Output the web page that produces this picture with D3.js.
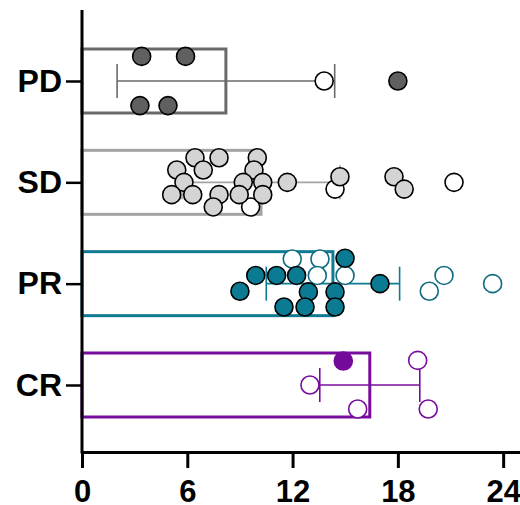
<!DOCTYPE html>
<meta charset="utf-8">
<script src="https://d3js.org/d3.v7.min.js"></script>
<style>
  body { margin: 0; background: #fff; }
  text { font-family: "Liberation Sans", Arial, sans-serif; font-weight: bold; }
</style>
<div id="my_dataviz"></div>
<script>

// categories, top to bottom
const groups = ["PD", "SD", "PR", "CR"];

// bar = mean, err = SD (whisker)
const means = [8.2, 10.2, 14.3, 16.4];
const errs  = [6.2, 4.5, 3.8, 2.85];

// filled points: value and vertical jitter (lane units, -2..2)
const filledVals = {
  PD: [3.4, 5.9, 3.3, 4.9, 18.0],
  SD: [6.44, 7.81, 9.99, 5.40, 6.91, 9.80, 5.81, 9.19, 10.30, 11.70, 14.70, 17.78, 5.11, 6.31, 7.81, 8.96, 10.30, 7.48, 18.36],
  PR: [14.99, 9.90, 11.09, 12.23, 9.00, 12.90, 14.42, 16.98, 11.51, 12.71, 14.42],
  CR: [14.89]
};
const filledJit = {
  PD: [-2, -2, 2, 2, 0],
  SD: [-2, -2, -2, -1, -1, -1, 0, 0, 0, 0, -0.45, -0.45, 1, 1, 1, 1, 1, 2, 0.55],
  PR: [-2.07, -0.67, -0.67, -0.67, 0.62, 0.67, 0.67, 0, 1.9, 1.9, 1.9],
  CR: [-1.95]
};

// open points
const openVals = {
  PD: [13.8],
  SD: [14.42, 9.61, 21.2],
  PR: [11.98, 13.56, 13.41, 14.99, 20.63, 19.79, 23.4],
  CR: [12.99, 15.71, 19.13, 19.73]
};
const openJit = {
  PD: [0],
  SD: [0.55, 2, 0],
  PR: [-2, -2, -0.67, -0.67, -0.67, 0.62, 0],
  CR: [0, 1.95, -2, 1.95]
};

const xTicks = [0, 6, 12, 18, 24];

// colours per group
const barColor   = {PD: "#6a6a6a", SD: "#a3a3a3", PR: "#0f7b92", CR: "#780c9e"};
const fillColor  = {PD: "#606060", SD: "#d4d4d4", PR: "#0a7b93", CR: "#750a9a"};
const dotStroke  = {PD: "#000", SD: "#000", PR: "#000", CR: "#750a9a"};
const openStroke = {PD: "#000", SD: "#000", PR: "#0f6b80", CR: "#780c9e"};

const width = 520, height = 505;

const svg = d3.select("#my_dataviz")
  .append("svg")
  .attr("width", width)
  .attr("height", height);

const x = d3.scaleLinear().domain([0, 25]).range([82, 520.7]);
const y = d3.scalePoint().domain(groups).range([81, 385]);
const jit = d3.scaleLinear().domain([-2, 2]).range([-24.6, 24.6]);
const barH = 64;

// bars
svg.selectAll("rect.bar")
  .data(groups)
  .join("rect")
  .attr("class", "bar")
  .attr("x", x(0))
  .attr("y", d => y(d) - barH / 2)
  .attr("width", (d, i) => x(means[i]) - x(0))
  .attr("height", barH)
  .attr("fill", "none")
  .attr("stroke", d => barColor[d])
  .attr("stroke-width", 3);

// whiskers
const wg = svg.selectAll("g.whisk")
  .data(groups)
  .join("g")
  .attr("class", "whisk")
  .attr("stroke", d => barColor[d])
  .attr("stroke-width", 1.6);
wg.append("line")
  .attr("x1", (d, i) => x(means[i] - errs[i]))
  .attr("x2", (d, i) => x(means[i] + errs[i]))
  .attr("y1", d => y(d)).attr("y2", d => y(d));
wg.append("line")
  .attr("x1", (d, i) => x(means[i] - errs[i]))
  .attr("x2", (d, i) => x(means[i] - errs[i]))
  .attr("y1", d => y(d) - 17).attr("y2", d => y(d) + 17);
wg.append("line")
  .attr("x1", (d, i) => x(means[i] + errs[i]))
  .attr("x2", (d, i) => x(means[i] + errs[i]))
  .attr("y1", d => y(d) - 17).attr("y2", d => y(d) + 17);

// points
const filledPts = [], openPts = [];
groups.forEach(g => {
  filledVals[g].forEach((v, i) => filledPts.push({g: g, v: v, j: filledJit[g][i]}));
  openVals[g].forEach((v, i) => openPts.push({g: g, v: v, j: openJit[g][i]}));
});

svg.selectAll("circle.open")
  .data(openPts)
  .join("circle")
  .attr("class", "open")
  .attr("cx", d => x(d.v))
  .attr("cy", d => y(d.g) + jit(d.j))
  .attr("r", 9)
  .attr("fill", "#fff")
  .attr("stroke", d => openStroke[d.g])
  .attr("stroke-width", 1.6);

svg.selectAll("circle.filled")
  .data(filledPts)
  .join("circle")
  .attr("class", "filled")
  .attr("cx", d => x(d.v))
  .attr("cy", d => y(d.g) + jit(d.j))
  .attr("r", 9)
  .attr("fill", d => fillColor[d.g])
  .attr("stroke", d => dotStroke[d.g])
  .attr("stroke-width", 1.6);

// x axis
const xAxis = svg.append("g")
  .attr("transform", "translate(0,452)")
  .call(d3.axisBottom(x).tickValues(xTicks).tickSize(16).tickPadding(12).tickSizeOuter(0));
xAxis.select(".domain").attr("stroke-width", 3);
xAxis.selectAll(".tick line").attr("stroke-width", 3);
xAxis.selectAll(".tick text").attr("font-size", 31).attr("fill", "#000");

// y axis
const yAxis = svg.append("g")
  .attr("transform", "translate(82,0)")
  .call(d3.axisLeft(y).tickSize(16).tickPadding(4).tickSizeOuter(0));
yAxis.select(".domain").attr("d", "M0,10V453.5").attr("stroke-width", 3);
yAxis.selectAll(".tick line").attr("stroke-width", 2.5);
yAxis.selectAll(".tick text").attr("font-size", 32).attr("fill", "#000");

</script>
